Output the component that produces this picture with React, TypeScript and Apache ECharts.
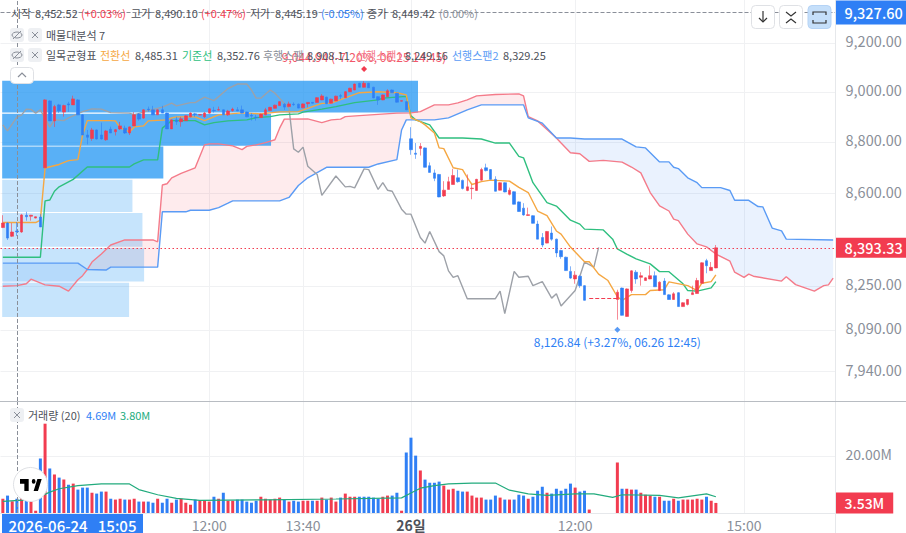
import React, { useEffect, useRef } from "react";
import * as echarts from "echarts";

const FONT = '"Noto Sans CJK KR","Noto Sans",sans-serif';
const RED = "#f23c50";
const BLUE = "#2f7ff5";

const BAR_COUNT = 178;
const timeTicks: Record<number, string> = { 44: "12:00", 64: "13:40", 87: "26일", 122: "12:00", 158: "15:00" };
const priceTicks = [9200, 9000, 8800, 8600, 8250, 8090, 7940];
const volumeTicks = [20];

// [open, close, low, high]
const ohlc: ([number, number, number, number] | null)[] = [
  [8470,8487,8468,8517],[8487,8430,8423,8490],[8437,8453,8434,8487],[8457,8454,8438,8491],[8453,8518,8450,8522],
  [8517,8511,8496,8530],[8513,8517,8496,8518],[8506,8511,8505,8512],[8510,8472,8472,8521],[8700,8969,8700,8972],
  [8965,8885,8885,8968],[8885,8942,8861,8949],[8949,8925,8917,8953],[8920,8946,8902,8950],[8953,8949,8921,8961],
  [8949,8973,8949,8986],[8969,8909,8909,8972],[8909,8829,8829,8912],[8829,8820,8792,8849],[8815,8849,8806,8857],
  [8849,8813,8811,8851],[8829,8813,8811,8878],[8810,8845,8806,8849],[8852,8837,8837,8862],[8842,8850,8827,8853],
  [8853,8865,8849,8881],[8856,8837,8833,8866],[8837,8861,8829,8863],[8865,8909,8865,8920],[8912,8892,8886,8916],
  [8896,8929,8893,8932],[8932,8929,8922,8942],[8929,8909,8909,8945],[8909,8929,8909,8931],[8929,8916,8916,8945],
  [8916,8853,8853,8918],[8853,8889,8853,8891],[8889,8882,8869,8901],[8882,8893,8862,8901],[8886,8905,8885,8907],
  [8901,8916,8899,8919],[8913,8910,8901,8917],[8908,8910,8907,8911],[8901,8916,8897,8921],[8916,8933,8914,8935],
  [8927,8925,8918,8941],[8928,8930,8926,8942],[8929,8909,8909,8931],[8909,8924,8905,8929],[8926,8932,8922,8938],
  [8929,8925,8924,8940],[8929,8916,8915,8946],[8920,8901,8900,8922],[8907,8904,8886,8916],[8900,8898,8886,8909],
  [8898,8912,8897,8914],[8909,8929,8908,8937],[8926,8939,8925,8941],[8935,8948,8934,8950],[8946,8962,8945,8964],
  [8952,8940,8929,8956],[8942,8953,8940,8962],[8952,8950,8945,8959],[8952,8936,8935,8954],[8937,8953,8936,8955],
  [8954,8959,8939,8960],[8959,8956,8955,8960],[8959,8978,8957,8980],[8969,8985,8968,8992],[8980,8954,8953,8982],
  [8956,8972,8955,8974],[8965,8984,8964,8986],[8986,8984,8972,8993],[8978,9002,8977,9004],[9002,9016,9001,9018],
  [9009,9033,9008,9035],[9036,9020,9019,9038],[9020,9036,9019,9045],[9036,9018,9017,9038],[9020,8977,8976,9022],
  [8982,8969,8949,8984],[8969,8989,8968,8991],[8982,9006,8981,9012],[9009,8998,8997,9011],[8996,8960,8958,8998],
  [8964,8966,8963,8967],[8962,8929,8928,8964],[8814,8771,8751,8860],[8757,8753,8735,8797],[8776,8784,8748,8797],
  [8778,8702,8701,8780],[8708,8682,8682,8721],[8680,8659,8648,8693],[8674,8587,8586,8676],[8591,8613,8587,8648],
  [8616,8646,8616,8665],[8635,8670,8635,8696],[8661,8646,8642,8693],[8651,8620,8616,8654],[8612,8626,8609,8674],
  [8619,8621,8578,8635],[8612,8655,8610,8657],[8652,8693,8650,8700],[8700,8689,8686,8716],[8693,8655,8654,8695],
  [8655,8609,8608,8667],[8613,8642,8612,8644],[8642,8606,8605,8644],[8597,8613,8593,8623],[8607,8559,8558,8609],
  [8568,8531,8530,8570],[8544,8518,8515,8563],[8516,8519,8515,8546],[8515,8486,8485,8517],[8483,8426,8426,8496],
  [8432,8404,8396,8449],[8411,8455,8410,8457],[8449,8426,8420,8474],[8426,8374,8358,8428],[8383,8360,8352,8386],
  [8358,8308,8307,8360],[8305,8280,8277,8324],[8277,8291,8259,8306],[8287,8252,8244,8290],[8252,8198,8197,8254],
  null,null,null,null,null,null,
  [8201,8228,8127,8237],[8243,8143,8142,8245],[8139,8240,8138,8242],[8234,8307,8226,8309],[8302,8277,8259,8310],
  [8283,8289,8252,8302],[8271,8281,8270,8283],[8277,8289,8276,8326],[8289,8248,8247,8305],[8234,8265,8232,8268],
  [8269,8219,8218,8280],[8218,8201,8200,8220],[8201,8222,8200,8228],[8226,8175,8174,8228],[8175,8189,8174,8191],
  [8183,8201,8179,8203],[8219,8226,8218,8252],[8223,8271,8222,8281],[8261,8337,8260,8339],[8345,8326,8298,8352],
  [8308,8320,8307,8340],[8318,8393.33,8317,8404],
];

const volumes: (number | null)[] = [
  5.0,6.1,4.1,5.0,5.3,7.0,4.7,0.8,19.1,31.3,
  15.6,13.5,12.4,11.7,9.9,10.3,8.2,8.9,8.9,7.1,
  6.8,7.5,7.5,5.0,4.7,5.0,4.7,4.7,5.0,4.0,
  4.0,4.0,3.6,5.0,3.6,5.0,3.6,4.7,5.0,3.6,
  2.9,4.7,4.3,4.3,4.0,5.7,5.0,7.1,4.3,4.3,
  4.7,4.7,4.0,3.6,4.3,5.7,5.0,4.7,5.0,5.4,
  4.7,4.0,4.3,4.0,4.3,4.3,4.3,4.3,5.4,4.7,
  5.4,4.0,5.4,6.8,5.7,5.7,5.7,5.7,5.7,5.4,
  5.0,5.7,6.1,6.1,7.1,0.8,21.2,26.4,20.1,14.9,
  11.7,10.6,10.6,11.0,9.6,8.2,8.5,7.8,7.5,7.5,
  6.1,5.4,5.4,4.7,4.7,6.1,5.4,4.7,4.7,4.7,
  6.4,6.1,5.0,5.7,7.8,9.2,7.1,6.8,8.5,7.8,
  8.5,10.3,8.9,7.5,7.8,1.2,null,null,null,null,null,
  17.7,8.5,8.5,8.2,8.2,7.1,6.4,6.1,5.7,5.7,4.3,4.3,5.0,4.3,4.7,4.7,4.7,5.0,4.7,5.7,4.3,3.53,
];
// bars whose volume is blue although the candle closed up
const blueVolumeBars = [77];

// vertices: [bar index, value]
const volumeMa: [number, number][] = [[0,4.1],[6,4.7],[8,5.8],[10,7.3],[12,8.5],[16,9.6],[21,10.2],[27,10.2],[29,8.2],[33,6.4],[37,5.1],[42,4.4],[56,4.6],[71,4.9],[85,5.3],[87,7],[89,8.7],[92,9.6],[95,10.2],[100,10.5],[105,10.5],[108,8],[112,6.7],[116,6.2],[122,6.7],[126,6.7],[130,5.5],[132,6.4],[140,6.2],[144,5.3],[150,6.7],[152,5.7]];

const tenkan: [number, number][] = [[0,8489],[7,8489],[8,8498],[9,8699],[12,8713],[14,8728],[16,8732],[17,8829],[18,8886],[23,8886],[24,8885],[25,8857],[27,8841],[28,8861],[30,8865],[31,8885],[35,8889],[36,8897],[37,8901],[41,8901],[43,8886],[46,8909],[51,8917],[55,8913],[59,8921],[63,8922],[68,8955],[70,8956],[73,8977],[76,8998],[80,9002],[84,8998],[86,8989],[87,8897],[89,8882],[90,8869],[92,8837],[93,8778],[94,8775],[96,8700],[98,8693],[99,8662],[100,8635],[102,8646],[104,8652],[108,8648],[110,8624],[112,8604],[114,8533],[116,8515],[118,8457],[119,8445],[121,8396],[124,8341],[125,8341],[127,8295],[129,8271],[131,8211],[132,8198],[134,8219],[137,8219],[138,8234],[141,8237],[142,8266],[146,8252],[148,8234],[149,8261],[151,8267],[152,8292]];

const kijun: [number, number][] = [[0,8358],[8,8358],[9,8572],[10,8575],[11,8609],[12,8626],[15,8655],[18,8703],[27,8703],[28,8715],[30,8731],[33,8731],[34,8856],[36,8886],[41,8886],[43,8869],[45,8878],[48,8885],[52,8889],[54,8898],[57,8902],[59,8909],[63,8913],[64,8920],[68,8932],[71,8942],[75,8958],[80,8969],[81,8976],[86,8983],[87,8905],[88,8889],[91,8869],[93,8817],[98,8817],[102,8813],[105,8797],[108,8797],[110,8745],[111,8739],[113,8642],[116,8565],[118,8552],[121,8498],[123,8483],[124,8464],[128,8461],[130,8426],[131,8389],[133,8370],[135,8352],[138,8333],[140,8304],[142,8304],[145,8259],[146,8234],[148,8232],[151,8244],[152,8267]];

const chikou: [number, number][] = [[0,8869],[1,8845],[3,8900],[4,8909],[5,8932],[6,8931],[7,8916],[8,8929],[10,8860],[11,8889],[13,8886],[14,8897],[17,8922],[19,8933],[21,8932],[23,8918],[27,8916],[28,8909],[31,8926],[34,8940],[36,8956],[37,8945],[40,8958],[41,8958],[43,8980],[45,8966],[48,9015],[50,9033],[52,9033],[53,9009],[54,8976],[55,8976],[57,9009],[58,8996],[60,8955],[61,8935],[62,8774],[63,8761],[64,8781],[65,8706],[67,8674],[68,8593],[71,8668],[73,8626],[74,8628],[75,8622],[77,8696],[78,8693],[80,8616],[81,8642],[82,8613],[83,8609],[85,8540],[86,8521],[87,8521],[89,8432],[90,8411],[91,8455],[93,8379],[94,8363],[95,8307],[96,8283],[97,8289],[99,8204],[105,8204],[106,8232],[107,8149],[109,8305],[110,8283],[112,8287],[113,8252],[115,8267],[117,8206],[118,8222],[119,8177],[122,8234],[124,8340],[126,8321],[127,8395]];

const senkouA: [number, number][] = [[0,8250],[3,8252],[5,8259],[6,8276],[9,8255],[12,8250],[14,8232],[16,8274],[17,8289],[18,8312],[19,8340],[21,8370],[23,8404],[26,8423],[32,8423],[33,8416],[34,8633],[35,8638],[36,8661],[38,8678],[41,8700],[43,8790],[44,8794],[46,8794],[49,8786],[51,8771],[52,8784],[54,8790],[56,8799],[58,8810],[59,8856],[60,8892],[65,8893],[68,8878],[70,8889],[72,8892],[73,8902],[76,8906],[84,8916],[87,8917],[89,8922],[92,8949],[95,8949],[97,8957],[99,8969],[101,8985],[105,8991],[110,8993],[111,8985],[112,8902],[114,8885],[118,8817],[119,8797],[121,8759],[123,8755],[125,8725],[128,8729],[132,8722],[134,8703],[136,8680],[138,8604],[140,8553],[142,8533],[143,8502],[144,8496],[146,8445],[148,8408],[150,8397],[152,8370],[155,8343],[156,8302],[158,8283],[159,8295],[160,8287],[166,8269],[167,8285],[169,8256],[173,8232],[175,8252],[176,8255],[177,8280]];

const senkouB: [number, number][] = [[0,8336],[16,8336],[18,8312],[22,8310],[23,8321],[33,8321],[34,8530],[39,8530],[40,8536],[44,8536],[46,8546],[48,8563],[49,8572],[59,8572],[61,8585],[63,8631],[65,8661],[69,8702],[78,8702],[80,8715],[84,8732],[85,8849],[86,8889],[92,8889],[95,8897],[99,8929],[102,8949],[111,8949],[112,8897],[115,8876],[118,8817],[121,8817],[124,8813],[132,8813],[135,8782],[137,8778],[140,8723],[142,8723],[143,8702],[144,8697],[146,8661],[148,8642],[149,8623],[153,8623],[155,8612],[156,8574],[159,8574],[161,8550],[162,8549],[164,8468],[166,8457],[167,8426],[177,8423]];

// volume-profile rows: [share of volume, low price, high price]
const profileRows: [number, number, number][] = [
  [50.0,8918,9046],[32.4,8786,8913],[19.5,8658,8783],[15.8,8529,8653],[17.0,8397,8525],[17.2,8267,8393],[15.4,8137,8263],
];
const profileColors = ["dark","dark","dark","light","light","light","light"];

const lastPrice = 8393.33;
const crossPrice = 9327.6;
const crossIndex = 3;
const highPoint = { index: 77, price: 9044.94, text: "9,044.94 (-7.20%, 06.25 14:45)" };
const lowPoint = { index: 131, price: 8126.84, text: "8,126.84 (+3.27%, 06.26 12:45)" };
const gapPrice = 8204;

const legendRow1: [string, number, string][] = [
  ["시작",11,"#4d5159"],["8,452.52",35,"#4d5159"],["(+0.03%)",81,RED],["고가",131,"#4d5159"],["8,490.10",155,"#4d5159"],["(+0.47%)",201,RED],
  ["저가",250,"#4d5159"],["8,445.19",275,"#4d5159"],["(-0.05%)",321,BLUE],["종가",367,"#4d5159"],["8,449.42",392,"#4d5159"],["(0.00%)",439,"#8a8f99"],
];
const legendRow3: [string, number, string][] = [
  ["일목균형표",46,"#4d5159"],["전환선",100,"#f5a742"],["8,485.31",135,"#4d5159"],["기준선",182,"#2fbf7f"],["8,352.76",217,"#4d5159"],
  ["후행스팬",263,"#8a8f99"],["8,908.11",307,"#4d5159"],["선행스팬1",356,"#f47b8a"],["8,249.16",405,"#4d5159"],["선행스팬2",452,"#5a9bf5"],["8,329.25",503,"#4d5159"],
];

const L = (v: number) => Math.log(v);
const logPts = (a: [number, number][]) => a.map(([i, v]) => [i, L(v)]);
const fmt = (v: number) => v.toLocaleString("en-US", { minimumFractionDigits: 2, maximumFractionDigits: 2 });

const cloudSegments: [number, number, string][] = [
  [0, 18, "rgba(47,127,245,0.10)"],
  [18, 118, "rgba(242,60,80,0.10)"],
  [118, 177, "rgba(47,127,245,0.10)"],
];

function txt(text: string, x: number, y: number, fill: string, size = 11, extra: any = {}) {
  return { type: "text", z: 60, silent: true, style: { text, x, y, fill, font: `${extra.weight || 400} ${size}px ${FONT}`, verticalAlign: "middle", align: extra.align || "left" } };
}
function box(x: number, y: number, w: number, h: number, fill: string, stroke: string, r = 4) {
  return { type: "rect", z: 59, silent: true, shape: { x, y, width: w, height: h, r }, style: { fill, stroke } };
}
function seg(x1: number, y1: number, x2: number, y2: number, stroke = "#8a8f99", lineWidth = 1) {
  return { type: "line", z: 60, silent: true, shape: { x1, y1, x2, y2 }, style: { stroke, lineWidth } };
}
function poly(points: number[][], stroke = "#333", lineWidth = 1.2) {
  return { type: "polyline", z: 60, silent: true, shape: { points }, style: { stroke, lineWidth, fill: "none" } };
}
function xBox(cx: number, cy: number) {
  return [box(cx - 7, cy - 7, 14, 14, "#eef0f3", "none", 3), seg(cx - 3, cy - 3, cx + 3, cy + 3), seg(cx + 3, cy - 3, cx - 3, cy + 3)];
}
function eyeBox(cx: number, cy: number) {
  return [
    box(cx - 7, cy - 7, 14, 14, "#eef0f3", "none", 3),
    { type: "ellipse", z: 60, silent: true, shape: { cx, cy, rx: 5, ry: 3 }, style: { stroke: "#8a8f99", fill: "none", lineWidth: 1 } },
    seg(cx - 4, cy + 4, cx + 4, cy - 4),
  ];
}

export default function App() {
  const ref = useRef<HTMLDivElement>(null);
  useEffect(() => {
    document.body.style.margin = "0";
    echarts.graphic.registerShape(
      "tvlogo",
      echarts.graphic.extendPath(
        "M14 6H0v6h7v9h7V6Zm15 15h-7l6-15h7l-6 15Zm-7-9a3 3 0 1 0 0-6 3 3 0 0 0 0 6Z",
        {}
      ) as any
    );
    const chart = echarts.init(ref.current!, undefined, { renderer: "svg" });
    const categories = Array.from({ length: BAR_COUNT }, (_, i) => timeTicks[i] || String(i));
    const isTick = (i: number) => timeTicks[i] !== undefined;
    const grids = [
      { left: 0.5, top: 0, width: 835, height: 401, outerBoundsMode: "none" },
      { left: 0.5, top: 402, width: 835, height: 111, outerBoundsMode: "none" },
    ];
    const gridLine = { color: "#f0f1f3", width: 1 };
    const lineSeries = (name: string, data: [number, number][], color: string, extra: any = {}) => ({
      type: "line",
      name,
      data: logPts(data),
      showSymbol: false,
      symbol: "none",
      z: 4,
      silent: true,
      lineStyle: { color, width: 1.4 },
      ...extra,
    });
    chart.setOption({
      animation: false,
      textStyle: { fontFamily: FONT },
      grid: grids,
      xAxis: [
        {
          type: "category", gridIndex: 0, data: categories, axisLine: { show: false }, axisTick: { show: false }, axisLabel: { show: false },
          splitLine: { show: true, alignWithLabel: true, interval: (i: number) => isTick(i), lineStyle: gridLine },
        },
        {
          type: "category", gridIndex: 1, data: categories, axisLine: { show: false }, axisTick: { show: false },
          axisLabel: {
            interval: (i: number) => isTick(i), margin: 5, color: "#8a8f99", fontSize: 14, lineHeight: 14, fontFamily: FONT, hideOverlap: false,
            formatter: (v: string) => (v === "26일" ? `{b|${v}}` : v),
            rich: { b: { fontWeight: 700, color: "#4d5159", fontSize: 14, lineHeight: 14, fontFamily: FONT } },
          },
          splitLine: { show: true, alignWithLabel: true, interval: (i: number) => isTick(i), lineStyle: gridLine },
        },
        { type: "value", gridIndex: 0, min: 0, max: 100, show: false },
      ],
      yAxis: [
        {
          type: "value", gridIndex: 0, position: "right", min: L(7836), max: L(9380), scale: true,
          axisLine: { show: false }, axisTick: { show: false, customValues: priceTicks.map(L) },
          axisLabel: { customValues: priceTicks.map(L), margin: 10, color: "#8a8f99", fontSize: 14.5, fontFamily: FONT, verticalAlign: "bottom", lineHeight: 5, formatter: (v: number) => fmt(Math.exp(v)) },
          splitLine: { show: true, lineStyle: gridLine },
        },
        {
          type: "value", gridIndex: 1, position: "right", min: 0, max: 38.9,
          axisLine: { show: false }, axisTick: { show: false, customValues: volumeTicks },
          axisLabel: { customValues: volumeTicks, margin: 10, color: "#8a8f99", fontSize: 14, fontFamily: FONT, verticalAlign: "bottom", lineHeight: 4, formatter: (v: number) => `${v.toFixed(2)}M` },
          splitLine: { show: true, lineStyle: gridLine },
        },
      ],
      series: [
        {
          type: "custom", name: "구름", xAxisIndex: 0, yAxisIndex: 0, z: 1, silent: true, clip: true,
          data: cloudSegments.map((_, k) => [k]),
          encode: { x: 0 },
          renderItem: (params: any, api: any) => {
            const [a, b, fill] = cloudSegments[params.dataIndex];
            const inR = (p: [number, number]) => p[0] >= a && p[0] <= b;
            const top = senkouA.filter(inR);
            const bot = senkouB.filter(inR).reverse();
            const points = [...top, ...bot].map(([i, v]) => api.coord([i, L(v)]));
            return { type: "polygon", shape: { points }, style: { fill, stroke: "none" } };
          },
        },
        {
          type: "custom", name: "매물대분석", xAxisIndex: 2, yAxisIndex: 0, z: 2, silent: true, clip: true,
          data: profileRows.map(([v, lo, hi]) => [v, L(lo), L(hi)]),
          encode: { x: 0, y: [1, 2] },
          renderItem: (params: any, api: any) => {
            const a = api.coord([0.2, api.value(2)]);
            const b = api.coord([api.value(0), api.value(1)]);
            const dark = profileColors[params.dataIndex] === "dark";
            return {
              type: "rect",
              shape: { x: a[0], y: a[1], width: b[0] - a[0], height: b[1] - a[1] },
              style: { fill: dark ? "rgba(33,150,243,0.75)" : "rgba(33,150,243,0.26)", stroke: "none" },
            };
          },
        },
        lineSeries("선행스팬1", senkouA, "#f47b8a"),
        lineSeries("선행스팬2", senkouB, "#5a9bf5"),
        lineSeries("후행스팬", chikou, "#9da1a8", {
          markLine: {
            silent: true, symbol: "none", animation: false, precision: 8,
            data: [
              {
                yAxis: L(lastPrice),
                lineStyle: { color: RED, type: [1.5, 2.5], width: 1 },
                label: { show: true, position: "end", distance: 0, formatter: fmt(lastPrice), color: "#fff", backgroundColor: RED, fontSize: 14.5, fontWeight: 500, fontFamily: FONT, padding: [2, 6, 2, 9], lineHeight: 16 },
              },
              {
                yAxis: L(crossPrice),
                lineStyle: { color: "#8a8f99", type: "dashed", width: 1 },
                label: { show: true, position: "end", distance: 0, formatter: fmt(crossPrice), color: "#fff", backgroundColor: BLUE, fontSize: 14.5, fontWeight: 500, fontFamily: FONT, padding: [4, 6, 4, 9], lineHeight: 16 },
              },
              {
                xAxis: crossIndex,
                lineStyle: { color: "#8a8f99", type: "dashed", width: 1 },
                label: { show: false },
              },
              [
                { coord: [125, L(gapPrice)], lineStyle: { color: RED, type: "dashed", width: 1 }, label: { show: false } },
                { coord: [131, L(gapPrice)] },
              ],
            ],
          },
        }),
        lineSeries("기준선", kijun, "#2fbf7f"),
        lineSeries("전환선", tenkan, "#f5a742"),
        {
          type: "candlestick", name: "가격", xAxisIndex: 0, yAxisIndex: 0, z: 5, silent: true, barWidth: 3,
          itemStyle: { color: RED, color0: BLUE, borderColor: RED, borderColor0: BLUE, borderWidth: 0.6 },
          data: ohlc.map((r) => (r ? r.map(L) : ["-", "-", "-", "-"])),
          markPoint: {
            silent: true, animation: false,
            data: [
              {
                coord: [highPoint.index, L(highPoint.price)], symbol: "diamond", symbolSize: 6, symbolOffset: [0, -12], itemStyle: { color: RED },
                label: { show: true, position: "top", distance: 4, formatter: highPoint.text, color: "#f2586a", fontSize: 12, fontFamily: FONT },
              },
              {
                coord: [lowPoint.index, L(lowPoint.price)], symbol: "diamond", symbolSize: 6, symbolOffset: [0, 10], itemStyle: { color: "#5a9bf5" },
                label: { show: true, position: "bottom", distance: 3, formatter: lowPoint.text, color: BLUE, fontSize: 12, fontFamily: FONT },
              },
            ],
          },
        },
        {
          type: "bar", name: "거래량", xAxisIndex: 1, yAxisIndex: 1, barWidth: 3, silent: true, z: 3,
          data: volumes.map((v, i) => {
            const r = ohlc[i];
            const up = (!r || r[1] >= r[0]) && !blueVolumeBars.includes(i);
            return { value: v, itemStyle: { color: up ? RED : BLUE } };
          }),
          markLine: {
            silent: true, symbol: "none", animation: false,
            data: [
              { xAxis: crossIndex, lineStyle: { color: "#8a8f99", type: "dashed", width: 1 }, label: { show: false } },
            ],
          },
        },
        {
          type: "line", name: "거래량 이동평균", xAxisIndex: 1, yAxisIndex: 1, data: volumeMa, showSymbol: false, symbol: "none", z: 4, silent: true,
          lineStyle: { color: "#22ab7d", width: 1.2 },
          markLine: {
            silent: true, symbol: "none", animation: false,
            data: [
              {
                yAxis: volumes[152] as number,
                lineStyle: { color: "rgba(0,0,0,0)", width: 0 },
                label: { show: true, position: "end", distance: 0, formatter: "3.53M", color: "#fff", backgroundColor: RED, fontSize: 14, fontWeight: 500, fontFamily: FONT, padding: [2, 9, 3, 9], lineHeight: 16 },
              },
            ],
          },
        },
      ],
      graphic: [
        seg(835.5, 0, 835.5, 533, "#e6e8eb"),
        seg(0, 401.5, 906, 401.5, "#b8bcc2"),
        seg(0, 513.5, 835, 513.5, "#e6e8eb"),
        ...legendRow1.map(([t, x, c]) => txt(t, x, 13, c)),
        ...eyeBox(17, 35), ...xBox(35, 35),
        txt("매물대분석 7", 46, 35, "#4d5159"),
        ...eyeBox(17, 55), ...xBox(35, 55),
        ...legendRow3.map(([t, x, c]) => txt(t, x, 55, c)),
        box(10.5, 67.5, 23, 16, "#fff", "#dfe1e5"),
        poly([[18, 77], [22, 73], [26, 77]], "#8a8f99"),
        ...xBox(17, 415),
        txt("거래량 (20)", 28, 414.5, "#4d5159"),
        txt("4.69M", 86, 414.5, BLUE),
        txt("3.80M", 120, 414.5, "#22ab7d"),
        { type: "circle", z: 59, silent: true, shape: { cx: 30.5, cy: 484.5, r: 17 }, style: { fill: "#fff", stroke: "#dfe1e5" } },
        { type: "tvlogo", z: 60, silent: true, x: 20, y: 474.2, scaleX: 0.62, scaleY: 0.8, style: { fill: "#000" } },
        box(2, 513, 141, 20, BLUE, "none", 0),
        txt("2026-06-24   15:05", 72.5, 525.5, "#fff", 15, { align: "center", weight: 500 }),
        box(751.5, 5.5, 23, 23, "#fff", "#dfe1e5"),
        seg(763, 11, 763, 22, "#333", 1.2), poly([[759, 18], [763, 22], [767, 18]]),
        box(779.5, 5.5, 23, 23, "#fff", "#dfe1e5"),
        poly([[786, 12], [791, 16], [796, 12]]), poly([[786, 23], [791, 19], [796, 23]]),
        box(808, 5.5, 23, 23, "#c5dffa", "#b5d3f5"),
        poly([[813, 15], [813, 12], [826, 12], [826, 15]]), poly([[813, 20], [813, 23], [826, 23], [826, 20]]),
      ],
    });
    return () => chart.dispose();
  }, []);
  return <div ref={ref} style={{ position: "absolute", left: 0, top: 0, width: 906, height: 533, background: "#fff", overflow: "hidden" }} />;
}
